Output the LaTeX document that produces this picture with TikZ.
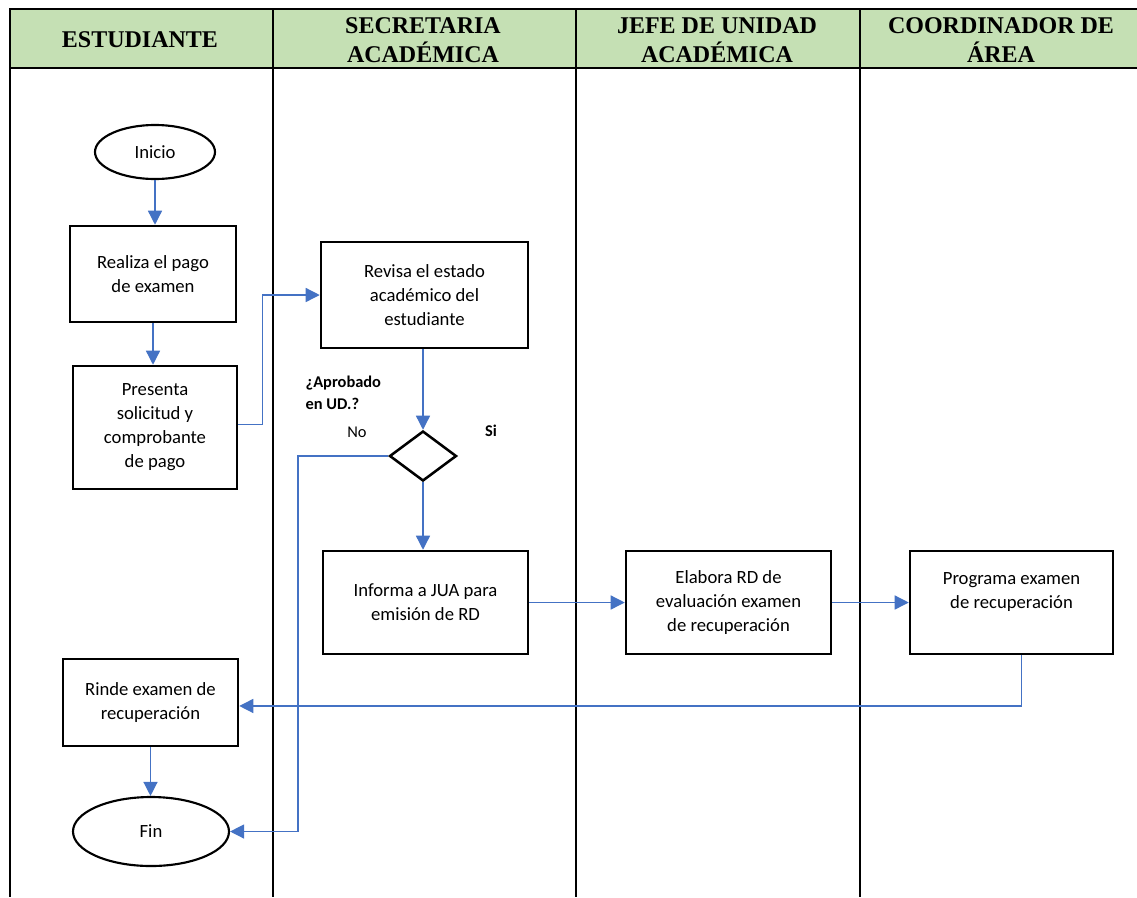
\documentclass[tikz,border=0pt]{standalone}
\usepackage{fontspec}
\setmainfont{Carlito}
\newfontfamily\headfont{Liberation Serif}
\usetikzlibrary{arrows.meta,shapes.geometric}
\definecolor{headgreen}{HTML}{C5E0B4}
\definecolor{flowblue}{HTML}{4472C4}

\begin{document}
\begin{tikzpicture}[x=0.75pt,y=-0.75pt,
  procbox/.style={draw,line width=1.9pt,rectangle,inner sep=0pt,align=center,
    font=\fontsize{14}{18}\selectfont},
  terminal/.style={draw,line width=1.6pt,ellipse,inner sep=0pt,
    font=\fontsize{14}{18}\selectfont},
  decision/.style={draw,line width=1.9pt,diamond,inner sep=0pt,
    minimum width=50.25pt,minimum height=37.5pt},
  flow/.style={draw=flowblue,line width=1pt,-{Triangle[length=10.5pt,width=10.5pt]}},
  lane/.style={line width=1.5pt},
  headtxt/.style={font=\headfont\bfseries\fontsize{18}{21.75}\selectfont,align=center},
  note/.style={font=\fontsize{12.3}{16.5}\selectfont},
  boldnote/.style={font=\fontsize{12.3}{16.5}\selectfont\bfseries}
]
\useasboundingbox (0,0) rectangle (1137,897);

% swimlane header and lane dividers
\fill[headgreen] (10,9) rectangle (1137,68);
\draw[lane] (1137,9) -- (10,9) -- (10,897);
\draw[lane] (10,68) -- (1137,68);
\foreach \lx in {273,576,860} \draw[lane] (\lx,9) -- (\lx,897);

\node[headtxt] (h1) at (140,40) {ESTUDIANTE};
\node[headtxt] (h2) at (423,40) {SECRETARIA\\ACADÉMICA};
\node[headtxt] (h3) at (717,40) {JEFE DE UNIDAD\\ACADÉMICA};
\node[headtxt] (h4) at (1001,40) {COORDINADOR DE\\ÁREA};

% flow elements
\node[terminal,minimum width=90pt,minimum height=40.5pt] (inicio) at (155,152) {Inicio};
\node[procbox,minimum width=124.5pt,minimum height=72pt] (realiza) at (153,274)
  {Realiza el pago\\de examen};
\node[procbox,minimum width=123pt,minimum height=92.25pt] (presenta) at (155,427.5)
  {Presenta\\solicitud y\\comprobante\\de pago};
\node[procbox,minimum width=155.25pt,minimum height=79.5pt] (revisa) at (424.5,295)
  {Revisa el estado\\académico del\\estudiante};
\node[decision] (dec) at (423,456) {};
\node[procbox,minimum width=153.75pt,minimum height=77.25pt] (informa) at (425.5,602.5)
  {Informa a JUA para\\emisión de RD};
\node[procbox,minimum width=153.75pt,minimum height=77.25pt] (elabora) at (728.5,602.5)
  {Elabora RD de\\evaluación examen\\de recuperación};
\node[procbox,minimum width=152.25pt,minimum height=77.25pt] (programa) at (1011.5,602.5)
  {Programa examen\\de recuperación\\\mbox{}};
\node[procbox,minimum width=131.25pt,minimum height=65.25pt] (rinde) at (150.5,702.5)
  {Rinde examen de\\recuperación};
\node[terminal,minimum width=117pt,minimum height=51.75pt] (fin) at (151,831.5) {Fin};

% decision labels
\node[boldnote,align=left,anchor=west] (preg) at (301,393) {¿Aprobado\\en UD.?};
\node[note] (no) at (357,432) {No};
\node[boldnote] (si) at (491,431) {Si};

% connectors
\coordinate (nobend) at (298,456);
\draw[flow] ([yshift=2.5pt]presenta.east) -- ++(24,0) |- (revisa.west);
\draw[flow] (inicio.south) -- (inicio.south |- realiza.north);
\draw[flow] (realiza.south) -- (realiza.south |- presenta.north);
\draw[flow] (dec.north |- revisa.south) -- (dec.north);
\draw[flow] (dec.west) -- (nobend) |- (fin.east);
\draw[flow] (dec.south) -- (dec.south |- informa.north);
\draw[flow] (informa.east) -- (elabora.west);
\draw[flow] (elabora.east) -- (programa.west);
\draw[flow] ([xshift=7.5pt]programa.south) |- ([yshift=-2.6pt]rinde.east);
\draw[flow] (rinde.south) -- (rinde.south |- fin.north);
\end{tikzpicture}
\end{document}
